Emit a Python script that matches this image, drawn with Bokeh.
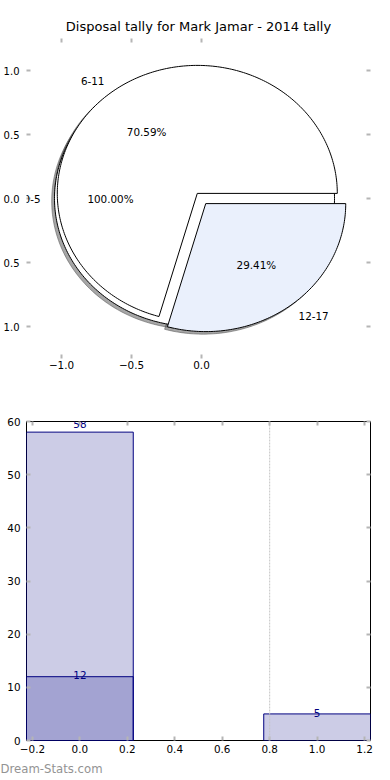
import numpy as np
from bokeh.plotting import figure
from bokeh.models import (ColumnDataSource, LabelSet, LinearAxis, FixedTicker,
                          Span, Title, Range1d)
from bokeh.core.properties import field, value
from bokeh.layouts import column
from bokeh.embed import file_html
from bokeh.resources import INLINE

# ---------------- data ----------------
title_text = "Disposal tally for Mark Jamar - 2014 tally"
outer_labels = ["0-5"]
outer_counts = [58]
outer_colors = ["#ffffff"]
inner_labels = ["6-11", "12-17"]
inner_counts = [12, 5]
inner_colors = ["#ffffff", "#eaf0fc"]

bar_x = [0, 1]
bar_total = [58, 5]
bar_sub_x = [0]
bar_sub = [12]
marker_x = 0.8

pie_yticks = [-1.0, -0.5, 0.0, 0.5, 1.0]
pie_ytick_labels = ["1.0", "0.5", "0.0", "0.5", "1.0"]
pie_xticks = [-1.0, -0.5, 0.0]
pie_xtick_labels = ["\u22121.0", "\u22120.5", "0.0"]
bar_yticks = [0, 10, 20, 30, 40, 50, 60]
bar_ytick_labels = ["0", "10", "20", "30", "40", "50", "60"]
bar_xticks = [-0.2, 0.0, 0.2, 0.4, 0.6, 0.8, 1.0, 1.2]
bar_xtick_labels = ["\u22120.2", "0.0", "0.2", "0.4", "0.6", "0.8", "1.0", "1.2"]
watermark = "Dream-Stats.com"

FONT = "DejaVu Sans"
EXPLODE = 0.05
SHADOW_OFF = (-0.02, -0.02)
TICK_COLOR = "#b5b5b5"


def pie_geometry(counts, labels, colors):
    total = float(sum(counts))
    start = 0.0
    g = dict(xs=[], ys=[], sxs=[], sys=[], color=[], shadow=[],
             lx=[], ly=[], lalign=[], label=[], px=[], py=[], pct=[])
    for c, lab, col in zip(counts, labels, colors):
        frac = c / total
        end = start + 360.0 * frac
        mid = np.deg2rad((start + end) / 2.0)
        cx, cy = EXPLODE * np.cos(mid), EXPLODE * np.sin(mid)
        if frac > 0.999999:
            t = np.linspace(0, 2 * np.pi, 361)
            x = cx + np.cos(t)
            y = cy + np.sin(t)
        else:
            t = np.linspace(np.deg2rad(start), np.deg2rad(end), int(end - start) + 2)
            x = np.concatenate([[cx], cx + np.cos(t), [cx]])
            y = np.concatenate([[cy], cy + np.sin(t), [cy]])
        g["xs"].append(list(x)); g["ys"].append(list(y))
        g["sxs"].append(list(x + SHADOW_OFF[0])); g["sys"].append(list(y + SHADOW_OFF[1]))
        g["color"].append(col)
        g["shadow"].append("#4d4d4d")
        lx = cx + 1.1 * np.cos(mid)
        g["lx"].append(lx); g["ly"].append(cy + 1.1 * np.sin(mid))
        g["lalign"].append("left" if lx > 0 else "right")
        g["label"].append(lab)
        g["px"].append(cx + 0.6 * np.cos(mid)); g["py"].append(cy + 0.6 * np.sin(mid))
        g["pct"].append("%.2f%%" % (frac * 100))
        start = end
    return g


def style_axis(ax, ticks, labels=None, size="10.4px", standoff=3):
    ax.ticker = FixedTicker(ticks=ticks)
    ax.minor_tick_line_color = None
    ax.minor_tick_in = 0
    ax.minor_tick_out = 0
    ax.major_tick_in = 4
    ax.major_tick_out = 0
    ax.major_tick_line_color = TICK_COLOR
    ax.major_tick_line_width = 2
    ax.axis_line_color = None
    if labels is None:
        ax.major_label_text_color = None
        ax.major_label_text_font_size = "0px"
        ax.major_label_standoff = 0
    else:
        ax.major_label_overrides = {float(k): v for k, v in zip(ticks, labels)}
        ax.major_label_text_font_size = size
        ax.major_label_text_font = FONT
        ax.major_label_text_color = "black"
        ax.major_label_standoff = standoff


# ---------------- pie figure ----------------
p1 = figure(frame_width=344, frame_height=320,
            x_range=Range1d(-1.25, 1.207), y_range=Range1d(-1.25, 1.25),
            output_backend="svg", toolbar_location=None,
            min_border_left=26, min_border_right=20, min_border_top=38,
            min_border_bottom=32)
p1.outline_line_color = None
p1.grid.visible = False
style_axis(p1.xaxis[0], pie_xticks, pie_xtick_labels, standoff=2)
style_axis(p1.yaxis[0], pie_yticks, pie_ytick_labels, size="10px", standoff=7)
ax_top = LinearAxis(); style_axis(ax_top, pie_xticks)
ax_right = LinearAxis(); style_axis(ax_right, pie_yticks)
p1.add_layout(ax_top, "above")
p1.add_layout(ax_right, "right")

p1.title.text = title_text
p1.title.align = "center"
p1.title.text_font = FONT
p1.title.text_font_size = "13px"
p1.title.text_font_style = "normal"
p1.title.text_color = "black"
p1.title.standoff = 9
p1.title.offset = -3

outer = pie_geometry(outer_counts, outer_labels, outer_colors)
inner = pie_geometry(inner_counts, inner_labels, inner_colors)
src_o = ColumnDataSource(outer)
src_i = ColumnDataSource(inner)

for src in (src_o, src_i):
    p1.patches(xs="sxs", ys="sys", source=src, fill_color="shadow", fill_alpha=0.5,
               line_color="shadow", line_alpha=0.5, line_width=1)
for src in (src_o, src_i):
    p1.patches(xs="xs", ys="ys", source=src, fill_color="color",
               line_color="black", line_width=1)
for src in (src_o, src_i):
    p1.add_layout(LabelSet(x="lx", y="ly", text="label", source=src,
                           text_align=field("lalign"), text_baseline="middle",
                           text_font=value(FONT), text_font_size="10.4px",
                           text_color="black"))
    p1.add_layout(LabelSet(x="px", y="py", text="pct", source=src,
                           text_align="center", text_baseline="middle",
                           text_font=value(FONT), text_font_size="10.4px",
                           text_color="black"))

# ---------------- bar figure ----------------
p2 = figure(frame_width=344, frame_height=319,
            x_range=Range1d(-0.225, 1.225), y_range=Range1d(0, 60),
            output_backend="svg", toolbar_location=None,
            min_border_left=26, min_border_right=20, min_border_top=31,
            min_border_bottom=40)
p2.outline_line_color = "black"
p2.outline_line_width = 1
p2.grid.visible = False
style_axis(p2.xaxis[0], bar_xticks, bar_xtick_labels, standoff=4)
style_axis(p2.yaxis[0], bar_yticks, bar_ytick_labels, standoff=6)
ax2_top = LinearAxis(); style_axis(ax2_top, bar_xticks)
ax2_right = LinearAxis(); style_axis(ax2_right, bar_yticks)
p2.add_layout(ax2_top, "above")
p2.add_layout(ax2_right, "right")

src_tot = ColumnDataSource(dict(x=bar_x, top=bar_total,
                                ly=[v * 1.025 for v in bar_total],
                                txt=[str(v) for v in bar_total]))
src_sub = ColumnDataSource(dict(x=bar_sub_x, top=bar_sub,
                                ly=[v * 1.025 for v in bar_sub],
                                txt=[str(v) for v in bar_sub]))
for src in (src_tot, src_sub):
    p2.vbar(x="x", top="top", bottom=0, width=0.45, source=src,
            fill_color="navy", fill_alpha=0.2, line_color="navy", line_width=1)
for src in (src_tot, src_sub):
    p2.add_layout(LabelSet(x="x", y="ly", text="txt", source=src,
                           text_align="center", text_baseline="middle",
                           text_font=value(FONT), text_font_size="10.4px",
                           text_color="navy"))
p2.add_layout(Span(location=marker_x, dimension="height", line_color="#c4c4c4",
                   line_dash="2 1", line_width=1))
p2.add_layout(Title(text=watermark, align="left", offset=-26, standoff=9,
                    text_font=FONT, text_font_size="11.7px", text_font_style="normal",
                    text_color="#939393"), "below")

layout = column(p1, p2, spacing=0)
open("out.html", "w").write(file_html(layout, INLINE))
